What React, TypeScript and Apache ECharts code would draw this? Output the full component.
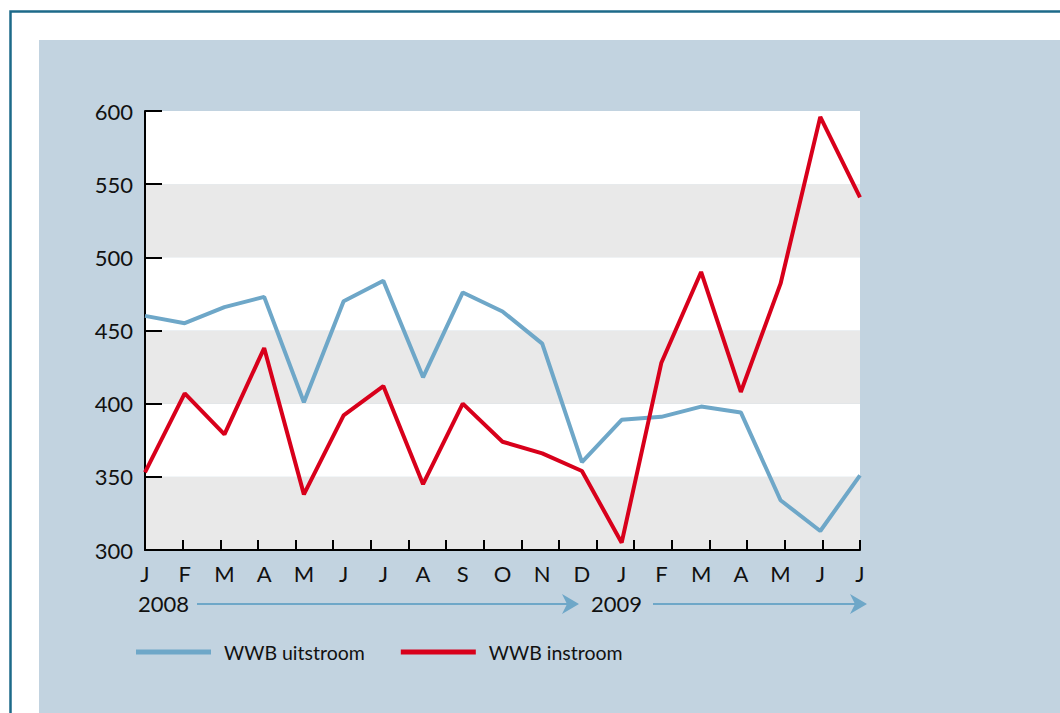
import React, { useEffect, useRef } from "react";
import * as echarts from "echarts";

const months = ["J", "F", "M", "A", "M", "J", "J", "A", "S", "O", "N", "D", "J", "F", "M", "A", "M", "J", "J"];
const uitstroom = [460, 455, 466, 473, 401, 470, 484, 418, 476, 463, 441, 360, 389, 391, 398, 394, 334, 313, 351];
const instroom = [353, 407, 379, 438, 338, 392, 412, 345, 400, 374, 366, 354, 305, 428, 490, 408, 482, 596, 541];
const years = ["2008", "2009"];
const seriesNames = ["WWB uitstroom", "WWB instroom"];

const BLUE = "#6ea7c8";
const RED = "#d8001b";
const FONT = "Lato";

export default function App() {
  const ref = useRef<HTMLDivElement>(null);
  useEffect(() => {
    const chart = echarts.init(ref.current!, null, { renderer: "svg" });
    const arrowHead = (tip: number, y: number) => ({
      type: "polygon",
      shape: { points: [[tip, y], [tip - 17, y - 10], [tip - 12, y], [tip - 17, y + 10]] },
      style: { fill: BLUE },
    });
    chart.setOption({
      animation: false,
      backgroundColor: "#ffffff",
      textStyle: { fontFamily: FONT },
      grid: { left: 145, right: 200, top: 111, bottom: 163, containLabel: false },
      legend: {
        left: 136,
        top: 642,
        padding: 0,
        itemWidth: 75,
        itemHeight: 5,
        itemGap: 36,
        icon: "rect",
        data: seriesNames,
        textStyle: { fontFamily: FONT, fontSize: 19.5, color: "#111", padding: [4, 0, 0, 8] },
      },
      graphic: [
        {
          type: "rect",
          z: -100,
          silent: true,
          shape: { x: 10.5, y: 11.5, width: 1200, height: 900 },
          style: { fill: "#ffffff", stroke: "#1d6a89", lineWidth: 2.5 },
        },
        {
          type: "rect",
          z: -99,
          silent: true,
          shape: { x: 39, y: 40, width: 1200, height: 900 },
          style: { fill: "#c2d3e0" },
        },
        {
          type: "text",
          left: 138,
          top: 592,
          style: { text: years[0], font: `22px '${FONT}'`, fill: "#111" },
        },
        {
          type: "text",
          left: 591,
          top: 592,
          style: { text: years[1], font: `22px '${FONT}'`, fill: "#111" },
        },
        {
          type: "line",
          shape: { x1: 197, y1: 604, x2: 568, y2: 604 },
          style: { stroke: BLUE, lineWidth: 2 },
        },
        arrowHead(579, 604),
        {
          type: "line",
          shape: { x1: 653, y1: 604, x2: 856, y2: 604 },
          style: { stroke: BLUE, lineWidth: 2 },
        },
        arrowHead(867, 604),
      ],
      xAxis: [
        {
          type: "category",
          data: months,
          boundaryGap: false,
          axisLine: { lineStyle: { color: "#000", width: 2 } },
          axisTick: { show: false },
          axisLabel: { color: "#111", fontSize: 22, fontFamily: FONT, margin: 12, interval: 0 },
          splitLine: { show: false },
        },
        {
          type: "value",
          min: 0,
          max: 19,
          interval: 1,
          position: "bottom",
          axisLine: { show: false },
          axisTick: { show: true, inside: true, length: 10, lineStyle: { color: "#000", width: 2 } },
          axisLabel: { show: false },
          splitLine: { show: false },
        },
      ],
      yAxis: {
        type: "value",
        min: 300,
        max: 600,
        interval: 50,
        axisLine: { show: true, lineStyle: { color: "#000", width: 2 } },
        axisTick: { show: true, inside: true, length: 17, lineStyle: { color: "#000", width: 2 } },
        axisLabel: { color: "#111", fontSize: 22, fontFamily: FONT, margin: 12 },
        splitLine: { show: false },
        splitArea: { show: true, areaStyle: { color: ["#e9e9e9", "#ffffff"] } },
      },
      series: [
        {
          name: seriesNames[0],
          type: "line",
          data: uitstroom,
          xAxisIndex: 0,
          symbol: "none",
          lineStyle: { color: BLUE, width: 4 },
          itemStyle: { color: BLUE },
          z: 3,
        },
        {
          name: seriesNames[1],
          type: "line",
          data: instroom,
          xAxisIndex: 0,
          symbol: "none",
          lineStyle: { color: RED, width: 4 },
          itemStyle: { color: RED },
          z: 4,
        },
      ],
    });
    return () => chart.dispose();
  }, []);
  return (
    <div
      ref={ref}
      style={{ position: "fixed", left: 0, top: 0, width: 1060, height: 713 }}
    />
  );
}
